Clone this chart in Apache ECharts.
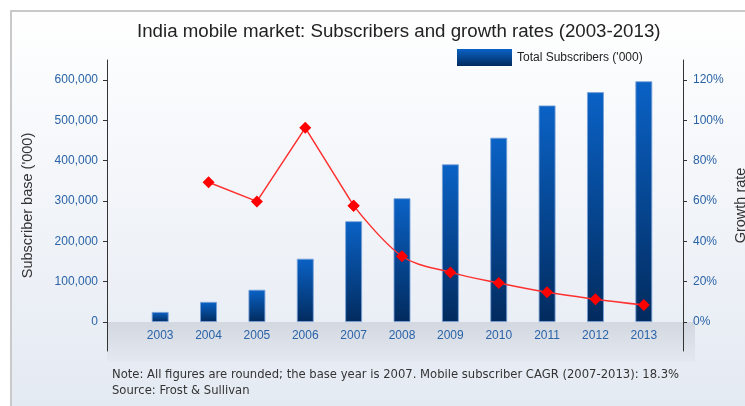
<!DOCTYPE html>
<html>
<head>
<meta charset="utf-8">
<script src="https://cdn.jsdelivr.net/npm/echarts@6/dist/echarts.min.js"></script>
<style>
html,body{margin:0;padding:0;background:#fff;}
#chart{width:745px;height:406px;}
</style>
</head>
<body>
<div id="chart"></div>
<script>
const years = ['2003','2004','2005','2006','2007','2008','2009','2010','2011','2012','2013'];
const subscribers = [25000, 50000, 80000, 157000, 250000, 307000, 391000, 457000, 537000, 570000, 597000];
const growthRate = [null, 69.3, 59.8, 96.3, 57.7, 32.6, 24.6, 19.3, 14.7, 11.3, 8.4];
const leftTicks = [0, 100000, 200000, 300000, 400000, 500000, 600000];
const rightTicks = [0, 20, 40, 60, 80, 100, 120];

const chart = echarts.init(document.getElementById('chart'));
const growthStraight = growthRate.map((v, i) => (i <= 4 ? v : null));
const growthCurve = growthRate.map((v, i) => (i >= 4 ? v : null));
const blue = '#2a63a6';
const noteFont = '11.6px "DejaVu Sans", Verdana, sans-serif';

const option = {
  animation: false,
  backgroundColor: '#ffffff',
  textStyle: { fontFamily: 'Liberation Sans, Arial, sans-serif' },
  graphic: [
    {
      type: 'rect', z: -10, silent: true,
      shape: { x: 11, y: 11, width: 745, height: 410 },
      style: {
        fill: new echarts.graphic.LinearGradient(0, 0, 0, 1, [
          { offset: 0, color: '#ffffff' },
          { offset: 1, color: '#e3e9f2' }
        ]),
        stroke: '#c9c9c9', lineWidth: 2
      }
    },
    {
      type: 'rect', z: -9, silent: true,
      shape: { x: 107, y: 322, width: 588, height: 40 },
      style: {
        fill: new echarts.graphic.LinearGradient(0, 0, 0, 1, [
          { offset: 0, color: '#d2d7e0' },
          { offset: 1, color: '#e4e9f1' }
        ])
      }
    },
    {
      type: 'text', left: 112, top: 369, silent: true,
      style: {
        text: 'Note: All figures are rounded; the base year is 2007. Mobile subscriber CAGR (2007-2013): 18.3%',
        font: noteFont, fill: '#333333'
      }
    },
    {
      type: 'text', left: 112, top: 385, silent: true,
      style: { text: 'Source: Frost & Sullivan', font: noteFont, fill: '#333333' }
    }
  ],
  title: {
    text: 'India mobile market: Subscribers and growth rates (2003-2013)',
    left: 137, top: 22, padding: 0,
    textStyle: { fontSize: 18.7, fontWeight: 'normal', color: '#222222', fontFamily: 'Liberation Sans' }
  },
  legend: {
    data: [{ name: "Total Subscribers ('000)", icon: 'rect' }],
    left: 457, top: 49, padding: 0,
    itemWidth: 55, itemHeight: 17, itemGap: 6,
    itemStyle: { borderWidth: 0 },
    textStyle: { fontSize: 12, color: '#222222', fontFamily: 'Liberation Sans' }
  },
  grid: [
    { left: 136, right: 77, top: 80, bottom: 84, outerBoundsMode: 'none', containLabel: false },
    { left: 107, right: 62, top: 60, bottom: 55, outerBoundsMode: 'none', containLabel: false }
  ],
  xAxis: [
    {
      type: 'category', gridIndex: 0, data: years,
      axisLine: { show: false }, axisTick: { show: false },
      axisLabel: { color: blue, fontSize: 12, margin: 8 }
    },
    { type: 'value', gridIndex: 1, show: false, min: 0, max: 1 }
  ],
  yAxis: [
    {
      type: 'value', gridIndex: 0, min: leftTicks[0], max: leftTicks[leftTicks.length - 1],
      interval: leftTicks[1] - leftTicks[0], offset: 29,
      axisLine: { show: false },
      axisTick: { show: true, length: 4, lineStyle: { color: '#333' } },
      splitLine: { show: false },
      axisLabel: { color: blue, fontSize: 12, margin: 9,
        formatter: v => v.toLocaleString('en-US') }
    },
    {
      type: 'value', gridIndex: 0, position: 'right', min: rightTicks[0], max: rightTicks[rightTicks.length - 1],
      interval: rightTicks[1] - rightTicks[0], offset: 15,
      axisLine: { show: false },
      axisTick: { show: true, length: 4, lineStyle: { color: '#333' } },
      splitLine: { show: false },
      axisLabel: { color: blue, fontSize: 12, margin: 10, formatter: '{value}%' }
    },
    {
      type: 'value', gridIndex: 1, position: 'left', min: 0, max: 1,
      axisLine: { show: true, lineStyle: { color: '#333', width: 1 } },
      axisTick: { show: false }, axisLabel: { show: false }, splitLine: { show: false },
      name: "Subscriber base ('000)", nameLocation: 'middle', nameRotate: 90, nameGap: 72,
      nameTextStyle: { fontSize: 14.5, color: '#333333' }
    },
    {
      type: 'value', gridIndex: 1, position: 'right', min: 0, max: 1,
      axisLine: { show: true, lineStyle: { color: '#333', width: 1 } },
      axisTick: { show: false }, axisLabel: { show: false }, splitLine: { show: false },
      name: 'Growth rate', nameLocation: 'middle', nameRotate: 90, nameGap: 50,
      nameTextStyle: { fontSize: 14.5, color: '#333333' }
    }
  ],
  series: [
    {
      name: "Total Subscribers ('000)", type: 'bar', xAxisIndex: 0, yAxisIndex: 0,
      data: subscribers, barWidth: 17,
      itemStyle: {
        color: new echarts.graphic.LinearGradient(0, 0, 0, 1, [
          { offset: 0, color: '#0a62c6' },
          { offset: 1, color: '#022b5e' }
        ]),
        borderColor: 'rgba(120,160,215,0.85)', borderWidth: 1
      }
    },
    {
      name: 'Growth rate', type: 'line', xAxisIndex: 0, yAxisIndex: 1,
      data: growthStraight, smooth: false,
      symbol: 'diamond', symbolSize: 12, showSymbol: true,
      lineStyle: { color: '#ff3030', width: 1.5 },
      itemStyle: { color: '#ff0000' }, z: 5
    },
    {
      name: 'Growth rate (trend)', type: 'line', xAxisIndex: 0, yAxisIndex: 1,
      data: growthCurve, smooth: 0.35,
      symbol: 'diamond', symbolSize: 12, showSymbol: true,
      lineStyle: { color: '#ff3030', width: 1.5 },
      itemStyle: { color: '#ff0000' }, z: 5
    }
  ]
};
chart.setOption(option);
</script>
</body>
</html>
